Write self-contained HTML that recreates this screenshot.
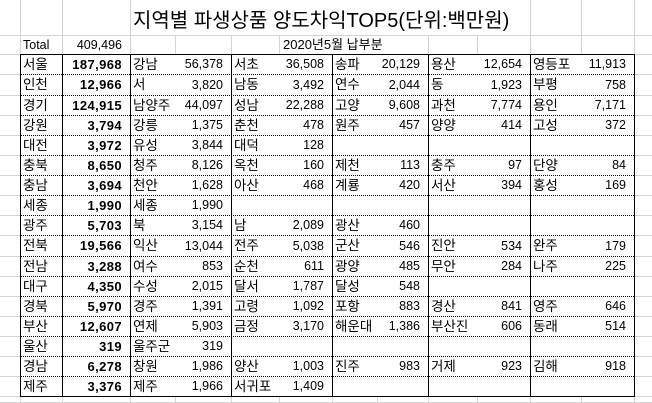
<!DOCTYPE html>
<html><head><meta charset="utf-8">
<style>
html,body{margin:0;padding:0;background:#fff;}
#w{position:relative;width:652px;height:403px;overflow:hidden;background:#fff;font-family:"Liberation Sans","Noto Sans CJK KR",sans-serif;color:#000;}
svg{position:absolute;left:0;top:0;}
.r{position:absolute;left:0;width:652px;}
.r div{position:absolute;top:0;height:100%;white-space:nowrap;box-sizing:border-box;font-size:12.5px;}
.r div.b,.r div.d,.r div.f,.r div.h,.r div.j,.r div.l{font-size:13.5px;}
.b{left:20px;width:42px;padding-left:3px;}
.c{left:62px;width:68px;text-align:right;padding-right:8px;}
.r div.c.bd{font-weight:bold;font-size:13px;letter-spacing:0.4px;}
.d{left:130px;width:45px;padding-left:3px;}
.e{left:175px;width:56px;text-align:right;padding-right:8px;}
.f{left:231px;width:48px;padding-left:3px;}
.g{left:279px;width:53px;text-align:right;padding-right:8px;}
.h{left:332px;width:45px;padding-left:3px;}
.i{left:377px;width:51px;text-align:right;padding-right:8px;}
.j{left:428px;width:49px;padding-left:3px;}
.k{left:477px;width:53px;text-align:right;padding-right:8px;}
.l{left:530px;width:51px;padding-left:3px;}
.m{left:581px;width:53px;text-align:right;padding-right:8px;}
#title{position:absolute;left:133px;top:4px;height:34px;line-height:34px;font-size:20px;white-space:nowrap;}
</style></head><body>
<div id="w">
<svg width="652" height="403" viewBox="0 0 652 403" shape-rendering="crispEdges">
<g stroke="#d4d4d4" stroke-width="1">
<line x1="20.5" y1="0" x2="20.5" y2="403"/>
<line x1="62.5" y1="0" x2="62.5" y2="403"/>
<line x1="130.5" y1="0" x2="130.5" y2="403"/>
<line x1="175.5" y1="0" x2="175.5" y2="403"/>
<line x1="231.5" y1="0" x2="231.5" y2="403"/>
<line x1="279.5" y1="0" x2="279.5" y2="403"/>
<line x1="332.5" y1="0" x2="332.5" y2="403"/>
<line x1="377.5" y1="0" x2="377.5" y2="403"/>
<line x1="428.5" y1="0" x2="428.5" y2="403"/>
<line x1="477.5" y1="0" x2="477.5" y2="403"/>
<line x1="530.5" y1="0" x2="530.5" y2="403"/>
<line x1="581.5" y1="0" x2="581.5" y2="403"/>
<line x1="634.5" y1="0" x2="634.5" y2="403"/>
<line x1="0" y1="35.5" x2="652" y2="35.5"/>
<line x1="0" y1="54.5" x2="652" y2="54.5"/>
<line x1="0" y1="74.5" x2="652" y2="74.5"/>
<line x1="0" y1="95.5" x2="652" y2="95.5"/>
<line x1="0" y1="115.5" x2="652" y2="115.5"/>
<line x1="0" y1="135.5" x2="652" y2="135.5"/>
<line x1="0" y1="155.5" x2="652" y2="155.5"/>
<line x1="0" y1="175.5" x2="652" y2="175.5"/>
<line x1="0" y1="195.5" x2="652" y2="195.5"/>
<line x1="0" y1="215.5" x2="652" y2="215.5"/>
<line x1="0" y1="235.5" x2="652" y2="235.5"/>
<line x1="0" y1="256.5" x2="652" y2="256.5"/>
<line x1="0" y1="276.5" x2="652" y2="276.5"/>
<line x1="0" y1="296.5" x2="652" y2="296.5"/>
<line x1="0" y1="316.5" x2="652" y2="316.5"/>
<line x1="0" y1="336.5" x2="652" y2="336.5"/>
<line x1="0" y1="356.5" x2="652" y2="356.5"/>
<line x1="0" y1="376.5" x2="652" y2="376.5"/>
<line x1="0" y1="396.5" x2="652" y2="396.5"/>
<line x1="0" y1="402.5" x2="652" y2="402.5"/>
</g>
<rect x="131" y="0" width="399" height="35" fill="#fff"/>
<rect x="330" y="36" width="62" height="18" fill="#fff"/>
<rect x="20" y="54" width="615" height="343" fill="#fff"/>
<g stroke="#000" stroke-width="1" stroke-dasharray="1 1">
<line x1="21" y1="74.5" x2="634" y2="74.5"/>
<line x1="21" y1="95.5" x2="634" y2="95.5"/>
<line x1="21" y1="115.5" x2="634" y2="115.5"/>
<line x1="21" y1="135.5" x2="634" y2="135.5"/>
<line x1="21" y1="155.5" x2="634" y2="155.5"/>
<line x1="21" y1="175.5" x2="634" y2="175.5"/>
<line x1="21" y1="195.5" x2="634" y2="195.5"/>
<line x1="21" y1="215.5" x2="634" y2="215.5"/>
<line x1="21" y1="235.5" x2="634" y2="235.5"/>
<line x1="21" y1="256.5" x2="634" y2="256.5"/>
<line x1="21" y1="276.5" x2="634" y2="276.5"/>
<line x1="21" y1="296.5" x2="634" y2="296.5"/>
<line x1="21" y1="316.5" x2="634" y2="316.5"/>
<line x1="21" y1="336.5" x2="634" y2="336.5"/>
<line x1="21" y1="356.5" x2="634" y2="356.5"/>
<line x1="21" y1="376.5" x2="634" y2="376.5"/>
</g>
<g stroke="#000" stroke-width="1">
<line x1="20" y1="54.5" x2="635" y2="54.5"/>
<line x1="20" y1="396.5" x2="635" y2="396.5"/>
<line x1="20.5" y1="54" x2="20.5" y2="397"/>
<line x1="62.5" y1="54" x2="62.5" y2="397"/>
<line x1="130.5" y1="54" x2="130.5" y2="397"/>
<line x1="231.5" y1="54" x2="231.5" y2="397"/>
<line x1="332.5" y1="54" x2="332.5" y2="397"/>
<line x1="428.5" y1="54" x2="428.5" y2="397"/>
<line x1="530.5" y1="54" x2="530.5" y2="397"/>
<line x1="634.5" y1="54" x2="634.5" y2="397"/>
</g>
</svg>

<div id="title">지역별 파생상품 양도차익TOP5(단위:백만원)</div>

<div class="r" style="top:36px;height:18px;line-height:18px;"><div class="b" style="font-size:12.5px;">Total</div><div class="c">409,496</div><div style="left:280px;padding-left:3px;font-size:13px;">2020년5월 납부분</div></div>

<div class="r" style="top:55px;height:19px;line-height:19px;"><div class="b">서울</div><div class="c bd">187,968</div><div class="d">강남</div><div class="e">56,378</div><div class="f">서초</div><div class="g">36,508</div><div class="h">송파</div><div class="i">20,129</div><div class="j">용산</div><div class="k">12,654</div><div class="l">영등포</div><div class="m">11,913</div></div>
<div class="r" style="top:75px;height:20px;line-height:20px;"><div class="b">인천</div><div class="c bd">12,966</div><div class="d">서</div><div class="e">3,820</div><div class="f">남동</div><div class="g">3,492</div><div class="h">연수</div><div class="i">2,044</div><div class="j">동</div><div class="k">1,923</div><div class="l">부평</div><div class="m">758</div></div>
<div class="r" style="top:96px;height:19px;line-height:19px;"><div class="b">경기</div><div class="c bd">124,915</div><div class="d">남양주</div><div class="e">44,097</div><div class="f">성남</div><div class="g">22,288</div><div class="h">고양</div><div class="i">9,608</div><div class="j">과천</div><div class="k">7,774</div><div class="l">용인</div><div class="m">7,171</div></div>
<div class="r" style="top:116px;height:19px;line-height:19px;"><div class="b">강원</div><div class="c bd">3,794</div><div class="d">강릉</div><div class="e">1,375</div><div class="f">춘천</div><div class="g">478</div><div class="h">원주</div><div class="i">457</div><div class="j">양양</div><div class="k">414</div><div class="l">고성</div><div class="m">372</div></div>
<div class="r" style="top:136px;height:19px;line-height:19px;"><div class="b">대전</div><div class="c bd">3,972</div><div class="d">유성</div><div class="e">3,844</div><div class="f">대덕</div><div class="g">128</div></div>
<div class="r" style="top:156px;height:19px;line-height:19px;"><div class="b">충북</div><div class="c bd">8,650</div><div class="d">청주</div><div class="e">8,126</div><div class="f">옥천</div><div class="g">160</div><div class="h">제천</div><div class="i">113</div><div class="j">충주</div><div class="k">97</div><div class="l">단양</div><div class="m">84</div></div>
<div class="r" style="top:176px;height:19px;line-height:19px;"><div class="b">충남</div><div class="c bd">3,694</div><div class="d">천안</div><div class="e">1,628</div><div class="f">아산</div><div class="g">468</div><div class="h">계룡</div><div class="i">420</div><div class="j">서산</div><div class="k">394</div><div class="l">홍성</div><div class="m">169</div></div>
<div class="r" style="top:196px;height:19px;line-height:19px;"><div class="b">세종</div><div class="c bd">1,990</div><div class="d">세종</div><div class="e">1,990</div></div>
<div class="r" style="top:216px;height:19px;line-height:19px;"><div class="b">광주</div><div class="c bd">5,703</div><div class="d">북</div><div class="e">3,154</div><div class="f">남</div><div class="g">2,089</div><div class="h">광산</div><div class="i">460</div></div>
<div class="r" style="top:236px;height:20px;line-height:20px;"><div class="b">전북</div><div class="c bd">19,566</div><div class="d">익산</div><div class="e">13,044</div><div class="f">전주</div><div class="g">5,038</div><div class="h">군산</div><div class="i">546</div><div class="j">진안</div><div class="k">534</div><div class="l">완주</div><div class="m">179</div></div>
<div class="r" style="top:257px;height:19px;line-height:19px;"><div class="b">전남</div><div class="c bd">3,288</div><div class="d">여수</div><div class="e">853</div><div class="f">순천</div><div class="g">611</div><div class="h">광양</div><div class="i">485</div><div class="j">무안</div><div class="k">284</div><div class="l">나주</div><div class="m">225</div></div>
<div class="r" style="top:277px;height:19px;line-height:19px;"><div class="b">대구</div><div class="c bd">4,350</div><div class="d">수성</div><div class="e">2,015</div><div class="f">달서</div><div class="g">1,787</div><div class="h">달성</div><div class="i">548</div></div>
<div class="r" style="top:297px;height:19px;line-height:19px;"><div class="b">경북</div><div class="c bd">5,970</div><div class="d">경주</div><div class="e">1,391</div><div class="f">고령</div><div class="g">1,092</div><div class="h">포항</div><div class="i">883</div><div class="j">경산</div><div class="k">841</div><div class="l">영주</div><div class="m">646</div></div>
<div class="r" style="top:317px;height:19px;line-height:19px;"><div class="b">부산</div><div class="c bd">12,607</div><div class="d">연제</div><div class="e">5,903</div><div class="f">금정</div><div class="g">3,170</div><div class="h">해운대</div><div class="i">1,386</div><div class="j">부산진</div><div class="k">606</div><div class="l">동래</div><div class="m">514</div></div>
<div class="r" style="top:337px;height:19px;line-height:19px;"><div class="b">울산</div><div class="c bd">319</div><div class="d">울주군</div><div class="e">319</div></div>
<div class="r" style="top:357px;height:19px;line-height:19px;"><div class="b">경남</div><div class="c bd">6,278</div><div class="d">창원</div><div class="e">1,986</div><div class="f">양산</div><div class="g">1,003</div><div class="h">진주</div><div class="i">983</div><div class="j">거제</div><div class="k">923</div><div class="l">김해</div><div class="m">918</div></div>
<div class="r" style="top:377px;height:19px;line-height:19px;"><div class="b">제주</div><div class="c bd">3,376</div><div class="d">제주</div><div class="e">1,966</div><div class="f">서귀포</div><div class="g">1,409</div></div>
</div>
</body></html>
